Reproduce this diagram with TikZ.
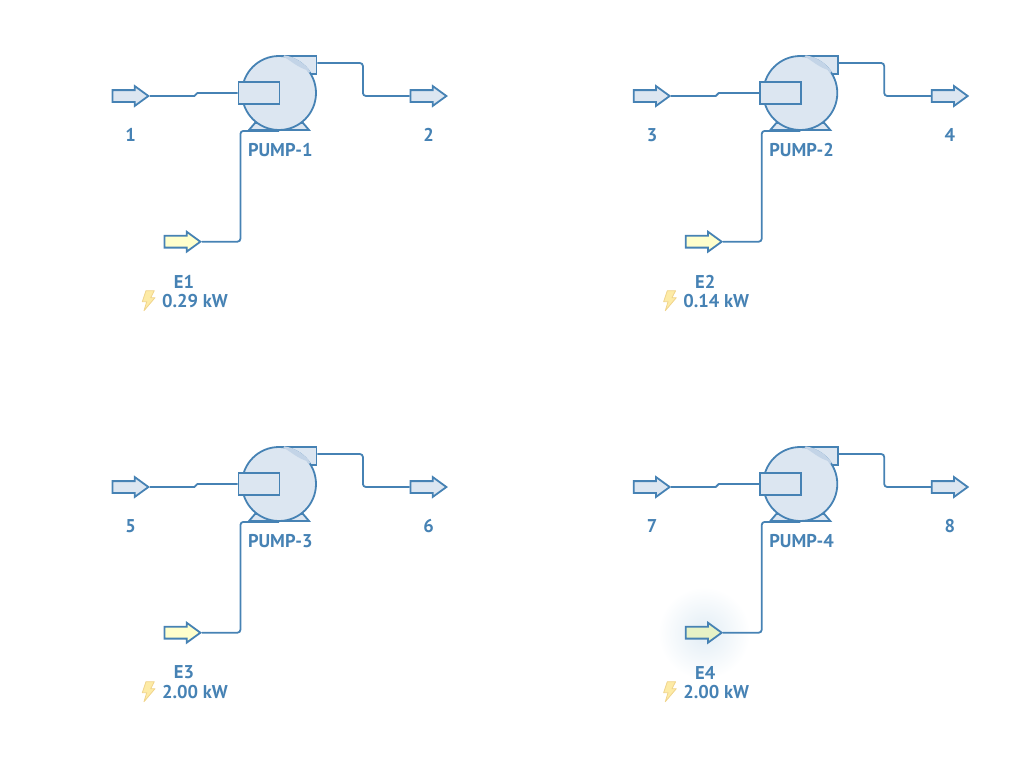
\documentclass[tikz,border=0pt]{standalone}
\usepackage{fontspec}
\setmainfont{PT Sans}
\usepackage{tikz}
\usetikzlibrary{positioning, shapes.arrows}
\definecolor{pumpline}{HTML}{4682B4}
\definecolor{pumpfill}{HTML}{DCE6F1}
\definecolor{pumpshade}{HTML}{C3D4E7}
\definecolor{powerfill}{HTML}{FFFFCC}
\definecolor{hotfill}{HTML}{E6F2C6}
\definecolor{boltfill}{HTML}{FDEBA6}
\definecolor{boltline}{HTML}{F0D48C}
\definecolor{glow}{HTML}{E2EDF5}

\begin{document}
\begin{tikzpicture}[x=1pt,y=-1pt,
        stream/.style={single arrow,draw=pumpline,fill=pumpfill,line width=1.8pt,anchor=tail,inner sep=0pt,
            text width=0pt,text height=10pt,minimum height=36pt,minimum width=19pt,
            single arrow head extend=4pt,single arrow tip angle=72},
        power/.style={stream,fill=#1},
        part/.style={draw=pumpline,fill=pumpfill,line width=1.8pt,inner sep=0pt},
        casing/.style={part,circle,minimum size=74pt},
        volute/.style={part,rectangle,minimum width=37.5pt,minimum height=18pt},
        inlet/.style={part,rectangle,minimum width=41pt,minimum height=22pt},
        pipe/.style={draw=pumpline,line width=1.8pt,rounded corners=3pt},
        jog/.style={draw=pumpline,line width=1.8pt,line join=round},
        tag/.style={text=pumpline,font=\fontsize{18.5}{20}\selectfont\bfseries}]
    \useasboundingbox (0,0) rectangle (1024,768);

    % glow behind the last energy stream
    \shade[inner color=glow,outer color=white,draw=none] (704,633) circle (46);

    \foreach \n/\dx/\dy/\a/\b/\kw/\efill in {1/0/0/1/2/0.29/powerfill,2/521.3/0/3/4/0.14/powerfill,
            3/0/391/5/6/2.00/powerfill,4/521.3/391/7/8/2.00/hotfill} {
        \begin{scope}[shift={(\dx,\dy)}]
            % feet
            \draw[part] (249,130) -- (255,123) -- (303,123) -- (309,130) -- cycle;
            \node[volute] (V\n) at (297.75,65) {};
            \node[casing] (P\n) at (279,93) {};
            % shaded part of the casing, under the volute
            \fill[pumpshade] (283,56.3) arc (-84:-38:37) .. controls (298,68) and (290,60) .. cycle;
            \draw[pumpshade,line width=2.2pt] (284,56.4) arc (-82:-34:37);
            \node[inlet] (I\n) at (259,93) {};

            \node[stream] (S\a) at (111.5,96) {};
            \node[stream] (S\b) at (409.5,96) {};
            \node[power=\efill] (E\n) at (163.5,241.7) {};

            \draw[jog] (S\a.tip) -- ++(44.5,0) -- ++(3,-3) -- (I\n.west);
            \draw[pipe] ([yshift=2pt]V\n.east) -- ++(45.5,0) |- (S\b.tail);
            \draw[pipe] (E\n.tip) -- ++(38.5,0) |- (P\n.south);

            \node[tag] (L\a) at (130.7,135) {\a};
            \node[tag] (L\b) at (428.5,135) {\b};
            \node[tag] (N\n) at (280.3,150) {PUMP-\n};
            \node[tag] (T\n) at (184,281.5) {E\n};
            \node[tag] (W\n) at (195,301.5) {\kw\ kW};
            \draw[fill=boltfill,draw=boltline,line width=0.8pt,line join=round]
                (146,290.7) -- (154.3,290.7) -- (150.7,297.7) -- (155,297.7) -- (144,310.7) -- (146.7,301.7) -- (142.3,301.7) -- cycle;
        \end{scope}
    }
\end{tikzpicture}
\end{document}
